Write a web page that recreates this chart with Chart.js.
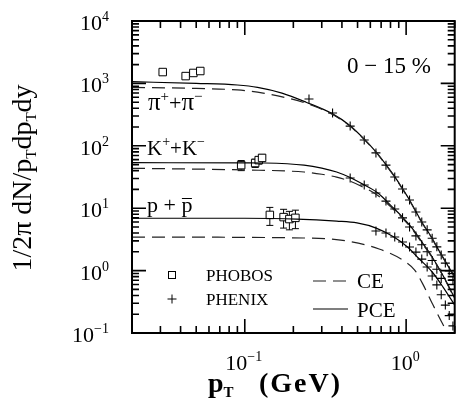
<!DOCTYPE html>
<html>
<head>
<meta charset="utf-8">
<script src="https://cdn.jsdelivr.net/npm/chart.js@4.4.0/dist/chart.umd.min.js"></script>
<style>
  html, body { margin: 0; padding: 0; background: #fff; }
  canvas { display: block; }
</style>
</head>
<body>
<canvas id="spectra" width="461" height="406"></canvas>
<script>
// axis ranges and tick labels
const xRange = [0.02, 2];
const yRange = [0.1, 1e4];
const xMajorTicks = [0.1, 1];
const xTickExp = ["\u22121", "0"];
const yMajorTicks = [0.1, 1, 10, 100, 1000, 10000];
const yTickExp = ["\u22121", "0", "1", "2", "3", "4"];

// model curves: PCE (solid) and CE (dashed)
const pionPcePt = [0.02, 0.05, 0.09, 0.12, 0.17, 0.24, 0.35, 0.45, 0.55, 0.65, 0.75, 0.85, 0.95, 1.05, 1.15, 1.25, 1.35, 1.45, 1.55, 1.7, 1.85, 2.0];
const pionPce   = [1064, 1000, 942, 865, 700, 500, 325, 210, 128, 80, 50, 32, 20.5, 13.5, 8.8, 6.0, 4.4, 3.3, 2.4, 1.6, 1.1, 0.8];
const pionCePt  = [0.02, 0.05, 0.09, 0.13, 0.18, 0.24, 0.35, 0.45, 0.55, 0.65, 0.75, 0.85, 0.95, 1.05, 1.15, 1.25, 1.35, 1.45, 1.55, 1.7, 1.85, 2.0];
const pionCe    = [865, 830, 785, 700, 590, 480, 318, 205, 126, 79, 49, 31.5, 20.2, 13.3, 8.7, 5.9, 4.35, 3.25, 2.37, 1.58, 1.09, 0.79];

const kaonPcePt = [0.02, 0.1, 0.133, 0.233, 0.3, 0.371, 0.45, 0.527, 0.668, 0.8, 0.95, 1.11, 1.26, 1.45, 1.73, 2.0];
const kaonPce   = [53.6, 53.3, 53, 49, 44, 38, 31, 25, 17.5, 11.2, 7.2, 4.5, 2.8, 1.65, 0.75, 0.36];
const kaonCePt  = [0.02, 0.1, 0.233, 0.3, 0.371, 0.45, 0.527, 0.668, 0.8, 0.95, 1.11, 1.26, 1.45, 1.73, 2.0];
const kaonCe    = [43.6, 41, 38, 35, 31.5, 27, 22.5, 16, 10.6, 6.9, 4.35, 2.72, 1.62, 0.74, 0.35];

const protonPcePt = [0.02, 0.1, 0.21, 0.371, 0.496, 0.652, 0.84, 1.02, 1.19, 1.45, 1.69, 2.0];
const protonPce   = [6.9, 6.9, 6.7, 6.2, 5.8, 4.8, 3.45, 2.39, 1.59, 0.95, 0.55, 0.28];
const protonCePt  = [0.02, 0.233, 0.43, 0.68, 0.95, 1.13, 1.26, 1.45, 1.66, 1.87, 2.0];
const protonCe    = [3.45, 3.33, 2.98, 2.22, 1.48, 1.02, 0.63, 0.30, 0.15, 0.085, 0.065];

// PHOBOS (open squares, with errors)
const phobosPionPt = [0.031, 0.043, 0.048, 0.053];
const phobosPion   = [1520, 1310, 1470, 1580];
const phobosPionErr = [0, 0, 0, 0];
const phobosKaonPt = [0.095, 0.116, 0.122, 0.128];
const phobosKaon   = [49, 53, 59, 64];
const phobosKaonErr = [9, 8, 8, 8];
const phobosProtonPt = [0.143, 0.174, 0.189, 0.206];
const phobosProton   = [7.8, 7.2, 6.7, 7.0];
const phobosProtonErr = [2.5, 2.4, 2.2, 2.3];

// PHENIX (crosses)
const phenixPionPt = [0.25, 0.35, 0.45, 0.55, 0.65, 0.75, 0.85, 0.95, 1.05, 1.15, 1.25, 1.35, 1.45, 1.55, 1.65, 1.75, 1.85, 1.95];
const phenixPion   = [562, 336, 207, 124, 77, 49, 31.6, 20.3, 13.5, 8.7, 6.0, 4.5, 3.3, 2.4, 1.78, 1.32, 0.99, 0.71];
const phenixKaonPt = [0.45, 0.55, 0.65, 0.75, 0.85, 0.95, 1.05, 1.15, 1.25, 1.35, 1.45, 1.55, 1.65];
const phenixKaon   = [30.5, 23.5, 17.5, 13.0, 9.7, 7.0, 5.0, 3.6, 2.6, 2.0, 1.45, 1.05, 0.75];
const phenixProtonPt = [0.65, 0.75, 0.85, 0.95, 1.05, 1.15, 1.25, 1.35, 1.45, 1.55, 1.65, 1.75, 1.85, 1.95];
const phenixProton   = [4.3, 4.0, 3.45, 2.87, 2.39, 1.98, 1.53, 1.14, 0.82, 0.59, 0.41, 0.28, 0.19, 0.13];

const SERIF = '"Liberation Serif", "Times New Roman", serif';

function pts(xs, ys) {
  return xs.map((x, i) => ({ x: x, y: ys[i] }));
}

function curve(xs, ys, dashed) {
  return {
    type: "line",
    data: pts(xs, ys),
    borderColor: dashed ? "#222" : "#000",
    borderWidth: 1.2,
    borderDash: dashed ? [13, 7] : [],
    pointRadius: 0,
    cubicInterpolationMode: "monotone",
    fill: false
  };
}

function squares(xs, ys, errs) {
  return {
    type: "scatter",
    data: pts(xs, ys),
    errors: errs,
    pointStyle: "rect",
    pointRadius: 5.3,
    borderColor: "#000",
    backgroundColor: "#fff",
    borderWidth: 1
  };
}

function crosses(xs, ys) {
  return {
    type: "scatter",
    data: pts(xs, ys),
    pointStyle: "cross",
    pointRadius: 4.5,
    borderColor: "#000",
    borderWidth: 1.1
  };
}

// text helpers: parts = [[text, size, dy, bold], ...]
function richWidth(ctx, parts) {
  let w = 0;
  parts.forEach(p => {
    ctx.font = (p[3] ? "bold " : "") + p[1] + "px " + SERIF;
    w += ctx.measureText(p[0]).width;
  });
  return w;
}
function drawRich(ctx, parts, x, y, align) {
  const w = richWidth(ctx, parts);
  let cx = align === "center" ? x - w / 2 : align === "right" ? x - w : x;
  ctx.textAlign = "left";
  ctx.textBaseline = "alphabetic";
  parts.forEach(p => {
    ctx.font = (p[3] ? "bold " : "") + p[1] + "px " + SERIF;
    ctx.fillText(p[0], cx, y + (p[2] || 0));
    cx += ctx.measureText(p[0]).width;
  });
  return cx;
}

const errorBars = {
  id: "errorBars",
  beforeDatasetsDraw(chart) {
    const ctx = chart.ctx;
    const y = chart.scales.y;
    ctx.save();
    ctx.strokeStyle = "#000";
    ctx.lineWidth = 1;
    chart.data.datasets.forEach((ds, i) => {
      if (!ds.errors) return;
      const meta = chart.getDatasetMeta(i);
      meta.data.forEach((el, j) => {
        const e = ds.errors[j];
        if (!e) return;
        const v = ds.data[j].y;
        const top = y.getPixelForValue(v + e);
        const bot = y.getPixelForValue(v - e);
        ctx.beginPath();
        ctx.moveTo(el.x, top); ctx.lineTo(el.x, bot);
        ctx.moveTo(el.x - 3.5, top); ctx.lineTo(el.x + 3.5, top);
        ctx.moveTo(el.x - 3.5, bot); ctx.lineTo(el.x + 3.5, bot);
        ctx.stroke();
      });
    });
    ctx.restore();
  }
};

const frame = {
  id: "frame",
  afterDraw(chart) {
    const ctx = chart.ctx;
    const a = chart.chartArea;
    const sx = chart.scales.x, sy = chart.scales.y;
    ctx.save();
    ctx.strokeStyle = "#000";
    ctx.fillStyle = "#000";

    // inward ticks on all four sides
    ctx.lineWidth = 1.6;
    ctx.beginPath();
    for (let d = 0.01; d < xRange[1] * 1.01; d *= 10) {
      for (let m = 1; m <= 9; m++) {
        const v = d * m;
        if (v < xRange[0] * 0.999 || v > xRange[1] * 1.001) continue;
        const px = sx.getPixelForValue(v);
        const len = m === 1 ? 14 : 7;
        ctx.moveTo(px, a.bottom); ctx.lineTo(px, a.bottom - len);
        ctx.moveTo(px, a.top); ctx.lineTo(px, a.top + len);
      }
    }
    for (let d = yRange[0]; d < yRange[1] * 1.01; d *= 10) {
      for (let m = 1; m <= 9; m++) {
        const v = d * m;
        if (v > yRange[1] * 1.001) continue;
        const py = sy.getPixelForValue(v);
        const len = m === 1 ? 14 : 7;
        ctx.moveTo(a.left, py); ctx.lineTo(a.left + len, py);
        ctx.moveTo(a.right, py); ctx.lineTo(a.right - len, py);
      }
    }
    ctx.stroke();
    ctx.lineWidth = 2;
    ctx.strokeRect(a.left, a.top, a.right - a.left, a.bottom - a.top);

    // tick labels
    yMajorTicks.forEach((v, i) => {
      const py = sy.getPixelForValue(v);
      drawRich(ctx, [["10", 22, 0], [yTickExp[i], 14, -9]], 109, py + 9, "right");
    });
    xMajorTicks.forEach((v, i) => {
      const px = sx.getPixelForValue(v);
      drawRich(ctx, [["10", 22, 0], [xTickExp[i], 14, -9]], px - 1, 370, "center");
    });

    // axis titles
    drawRich(ctx, [["p", 28, 0, true], ["T", 15, 5, true]], 208, 392, "left");
    ctx.letterSpacing = "2px";
    drawRich(ctx, [["(GeV)", 28, 0, true]], 342, 392, "right");
    ctx.letterSpacing = "0px";
    ctx.save();
    ctx.translate(22, 178);
    ctx.rotate(-Math.PI / 2);
    drawRich(ctx, [["1/2\u03c0 dN/p", 28, 0], ["T", 15, 5], ["dp", 28, 0], ["T", 15, 5], ["dy", 28, 0]], 0, 9, "center");
    ctx.restore();

    // annotations
    drawRich(ctx, [["0 \u2212 15 %", 23, 0]], 347, 73, "left");
    drawRich(ctx, [["\u03c0", 25, 0], ["+", 15, -9], ["+", 22, 0], ["\u03c0", 25, 0], ["\u2212", 15, -9]], 148, 110, "left");
    drawRich(ctx, [["K", 21, 0], ["+", 14, -9], ["+", 21, 0], ["K", 21, 0], ["\u2212", 14, -9]], 147, 155, "left");
    const pEnd = drawRich(ctx, [["p + p", 22, 0]], 147, 212, "left");
    ctx.font = "22px " + SERIF;
    const pw = ctx.measureText("p").width;
    ctx.lineWidth = 1;
    ctx.beginPath();
    ctx.moveTo(pEnd - pw + 0.5, 198.5); ctx.lineTo(pEnd - 0.5, 198.5);
    ctx.stroke();

    // legend
    ctx.lineWidth = 1;
    ctx.strokeStyle = "#000";
    ctx.strokeRect(168.5, 271.5, 7, 7);
    ctx.beginPath();
    ctx.moveTo(167.5, 299); ctx.lineTo(176.5, 299);
    ctx.moveTo(172, 294.5); ctx.lineTo(172, 303.5);
    ctx.stroke();
    drawRich(ctx, [["PHOBOS", 17, 0]], 206, 281, "left");
    drawRich(ctx, [["PHENIX", 17, 0]], 206, 305, "left");

    ctx.lineWidth = 1.2;
    ctx.strokeStyle = "#222";
    ctx.setLineDash([13, 7]);
    ctx.beginPath();
    ctx.moveTo(313, 281); ctx.lineTo(348, 281);
    ctx.stroke();
    ctx.setLineDash([]);
    ctx.strokeStyle = "#000";
    ctx.beginPath();
    ctx.moveTo(313, 309); ctx.lineTo(348, 309);
    ctx.stroke();
    drawRich(ctx, [["CE", 21, 0]], 357, 288, "left");
    drawRich(ctx, [["PCE", 21, 0]], 357, 317, "left");

    ctx.restore();
  }
};

new Chart(document.getElementById("spectra"), {
  type: "scatter",
  data: {
    datasets: [
      curve(pionCePt, pionCe, true),
      curve(pionPcePt, pionPce, false),
      curve(kaonCePt, kaonCe, true),
      curve(kaonPcePt, kaonPce, false),
      curve(protonCePt, protonCe, true),
      curve(protonPcePt, protonPce, false),
      crosses(phenixPionPt, phenixPion),
      crosses(phenixKaonPt, phenixKaon),
      crosses(phenixProtonPt, phenixProton),
      squares(phobosPionPt, phobosPion, phobosPionErr),
      squares(phobosKaonPt, phobosKaon, phobosKaonErr),
      squares(phobosProtonPt, phobosProton, phobosProtonErr)
    ]
  },
  options: {
    responsive: false,
    animation: false,
    devicePixelRatio: 1,
    layout: { padding: { top: 21, right: 1, left: 0, bottom: 0 } },
    plugins: { legend: { display: false }, tooltip: { enabled: false } },
    scales: {
      x: {
        type: "logarithmic",
        min: xRange[0], max: xRange[1],
        grid: { display: false },
        border: { display: false },
        ticks: { display: false },
        afterFit: s => { s.height = 73; }
      },
      y: {
        type: "logarithmic",
        min: yRange[0], max: yRange[1],
        grid: { display: false },
        border: { display: false },
        ticks: { display: false },
        afterFit: s => { s.width = 132; }
      }
    }
  },
  plugins: [errorBars, frame]
});
</script>
</body>
</html>
